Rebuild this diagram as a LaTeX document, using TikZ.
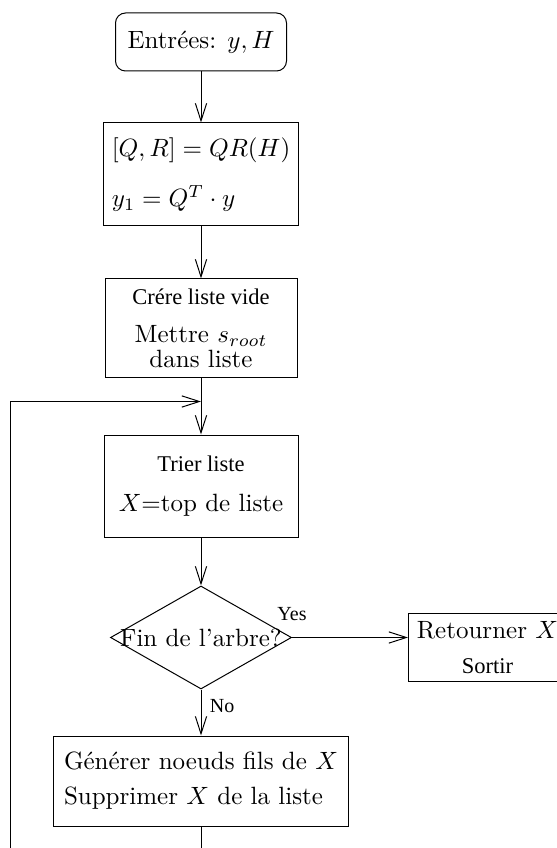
\documentclass[tikz,border=0pt]{standalone}
\usepackage{fontspec}
\usepackage{amsmath}
\usetikzlibrary{positioning, shapes.geometric, arrows.meta}
\newfontfamily\tms{Liberation Serif}
\tikzset{
    >={Straight Barb[length=7pt,width=4.5pt]},
    startbox/.style={rectangle, rounded corners=4pt, draw, minimum width=68.4pt, minimum height=23.2pt},
    procbox/.style={rectangle, draw, minimum width=77.6pt, minimum height=41.2pt},
    testbox/.style={diamond, draw, shape aspect=1.76, inner sep=-5pt, minimum width=72.4pt, minimum height=41.2pt},
    endbox/.style={rectangle, draw, minimum width=62.4pt, minimum height=26pt},
    branch/.style={font=\tms\footnotesize},
}
\begin{document}
\begin{tikzpicture}
    \useasboundingbox (-80.4pt,16.8pt) rectangle (142pt,-322.4pt);
    \node [startbox] (start) {Entrées: $y, H$};
    \node [procbox, align=left] (qr) [below=20.4pt of start] {$[Q,R] = QR(H)$\\[8pt] $y_1 = Q^T \cdot y$};
    \node [procbox, align=center, minimum width=76.8pt, minimum height=39.6pt] (init) [below=20.8pt of qr] {{\tms\small Crére liste vide}\\[3pt] Mettre $s_{root}$\\[-2pt] dans liste};
    \node [procbox, align=center, minimum height=40.8pt] (sort) [below=22.4pt of init] {{\tms\small Trier liste}\\[4pt] $X$=top de liste};
    \node [testbox] (leaf) [below=19.2pt of sort] {Fin de l'arbre?};
    \node [endbox, align=center] (ret) [right=46.4pt of leaf, yshift=-4pt] {Retourner $X$\\[2pt] {\tms\small Sortir}};
    \node [procbox, align=left, minimum width=118pt, minimum height=36pt] (expand) [below=18.4pt of leaf] {Générer noeuds fils de $X$\\[2pt] Supprimer $X$ de la liste};
    \coordinate (join) at ([yshift=-9.2pt]init.south);
    \coordinate (down) at ([yshift=-20pt]expand.south);
    \coordinate (back) at ([xshift=-76pt]down);
    \draw [->] (start) -- (qr);
    \draw [->] (qr) -- (init);
    \draw [->] (init) -- (sort);
    \draw [->] (sort) -- (leaf);
    \draw [->] (leaf.east) -- node [branch, pos=0, above, yshift=3pt] {Yes} (leaf.east -| ret.west);
    \draw [->] (leaf) -- node [branch, pos=0.35, right] {No} (expand);
    \draw [->] (expand) -- (down) -| (back) |- (join);
\end{tikzpicture}
\end{document}
